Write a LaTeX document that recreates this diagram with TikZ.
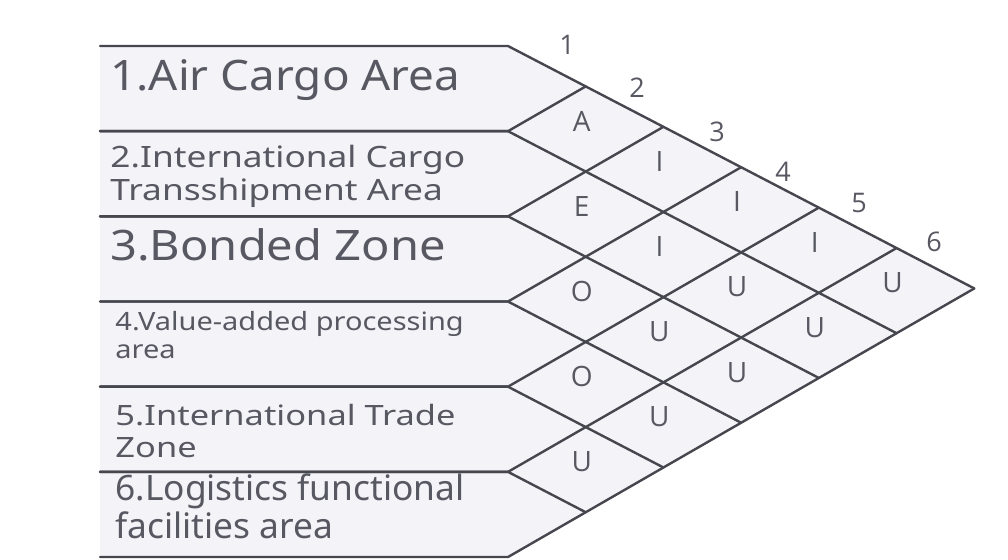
\documentclass[tikz,border=0pt]{standalone}
\usepackage{fontspec}
\setmainfont{Noto Sans}
\newfontfamily\markfont{Open Sans}
\usepackage{xcolor}
\definecolor{cInk}{HTML}{46464E}
\definecolor{cText}{HTML}{585862}
\definecolor{cTint}{HTML}{F4F3F8}

\begin{document}
\begin{tikzpicture}[
  x=0.5pt, y=-0.5pt,
  grid/.style={draw=cInk, line width=1.2pt, line join=round, line cap=round},
  lab/.style={anchor=base west, align=left, inner sep=0pt, text=cText},
  rel/.style={text=cText, font=\markfont\fontsize{14}{14}\selectfont, inner sep=0pt},
  num/.style={text=cText, font=\markfont\fontsize{13.5}{13.5}\selectfont, inner sep=0pt},
]
\useasboundingbox (0,0) rectangle (1008,559);

% row lines, their right ends, and the vertices on the two slanted edges
\foreach \i in {0,...,6} {
  \coordinate (L\i) at (100,{46+85.17*\i});
  \coordinate (P\i) at (508,{46+85.17*\i});
  \coordinate (T\i) at ({508+77.71*\i},{46+40.41*\i});
  \coordinate (B\i) at ({508+77.71*\i},{557-44.76*\i});
}

\fill[cTint] (L0) -- (P0) -- (T6) -- (P6) -- (L6) -- cycle;

\foreach \i in {0,...,6} {
  \pgfmathtruncatemacro\j{6-\i}
  \ifnum\i<6 \draw[grid] (L\i) -- (P\i) -- (B\j); \fi
  \ifnum\i>0 \draw[grid] (L\i) -- (P\i) -- (T\i); \fi
}

% area names (base anchor sits on the last line)
\node[lab, font=\fontsize{21}{25}\selectfont, xscale=1.09] (lab1) at (110,90) {1.Air Cargo Area};
\node[lab, font=\fontsize{14.7}{16.5}\selectfont, xscale=1.20] (lab2) at (110,200) {2.International Cargo\\Transshipment Area};
\node[lab, font=\fontsize{21}{25}\selectfont, xscale=1.12] (lab3) at (110,260) {3.Bonded Zone};
\node[lab, font=\fontsize{12.6}{14}\selectfont, xscale=1.15] (lab4) at (115,358) {4.Value-added processing\\area};
\node[lab, font=\fontsize{14}{16}\selectfont, xscale=1.23] (lab5) at (115,457) {5.International Trade\\Zone};
\node[lab, font=\fontsize{17.5}{16}\selectfont, xscale=1.01] (lab6) at (115,538) {6.Logistics functional\\facilities area};

% column numbers along the upper edge
\foreach \k/\x/\y in {1/567/45, 2/637/88, 3/717/132, 4/783/172, 5/859/203, 6/934/242}
  \node[num] (n\k) at (\x,\y) {\k};

% closeness ratings
\foreach \i/\j/\r in {1/2/A,1/3/I,1/4/I,1/5/I,1/6/U,
                      2/3/E,2/4/I,2/5/U,2/6/U,
                      3/4/O,3/5/U,3/6/U,
                      4/5/O,4/6/U,
                      5/6/U}
  \node[rel] (c\i\j) at ({508+77.71*(\j-\i)-4},{46+85.17*(\i-0.5)+40.41*(\j-\i)-8}) {\r};

\end{tikzpicture}
\end{document}
